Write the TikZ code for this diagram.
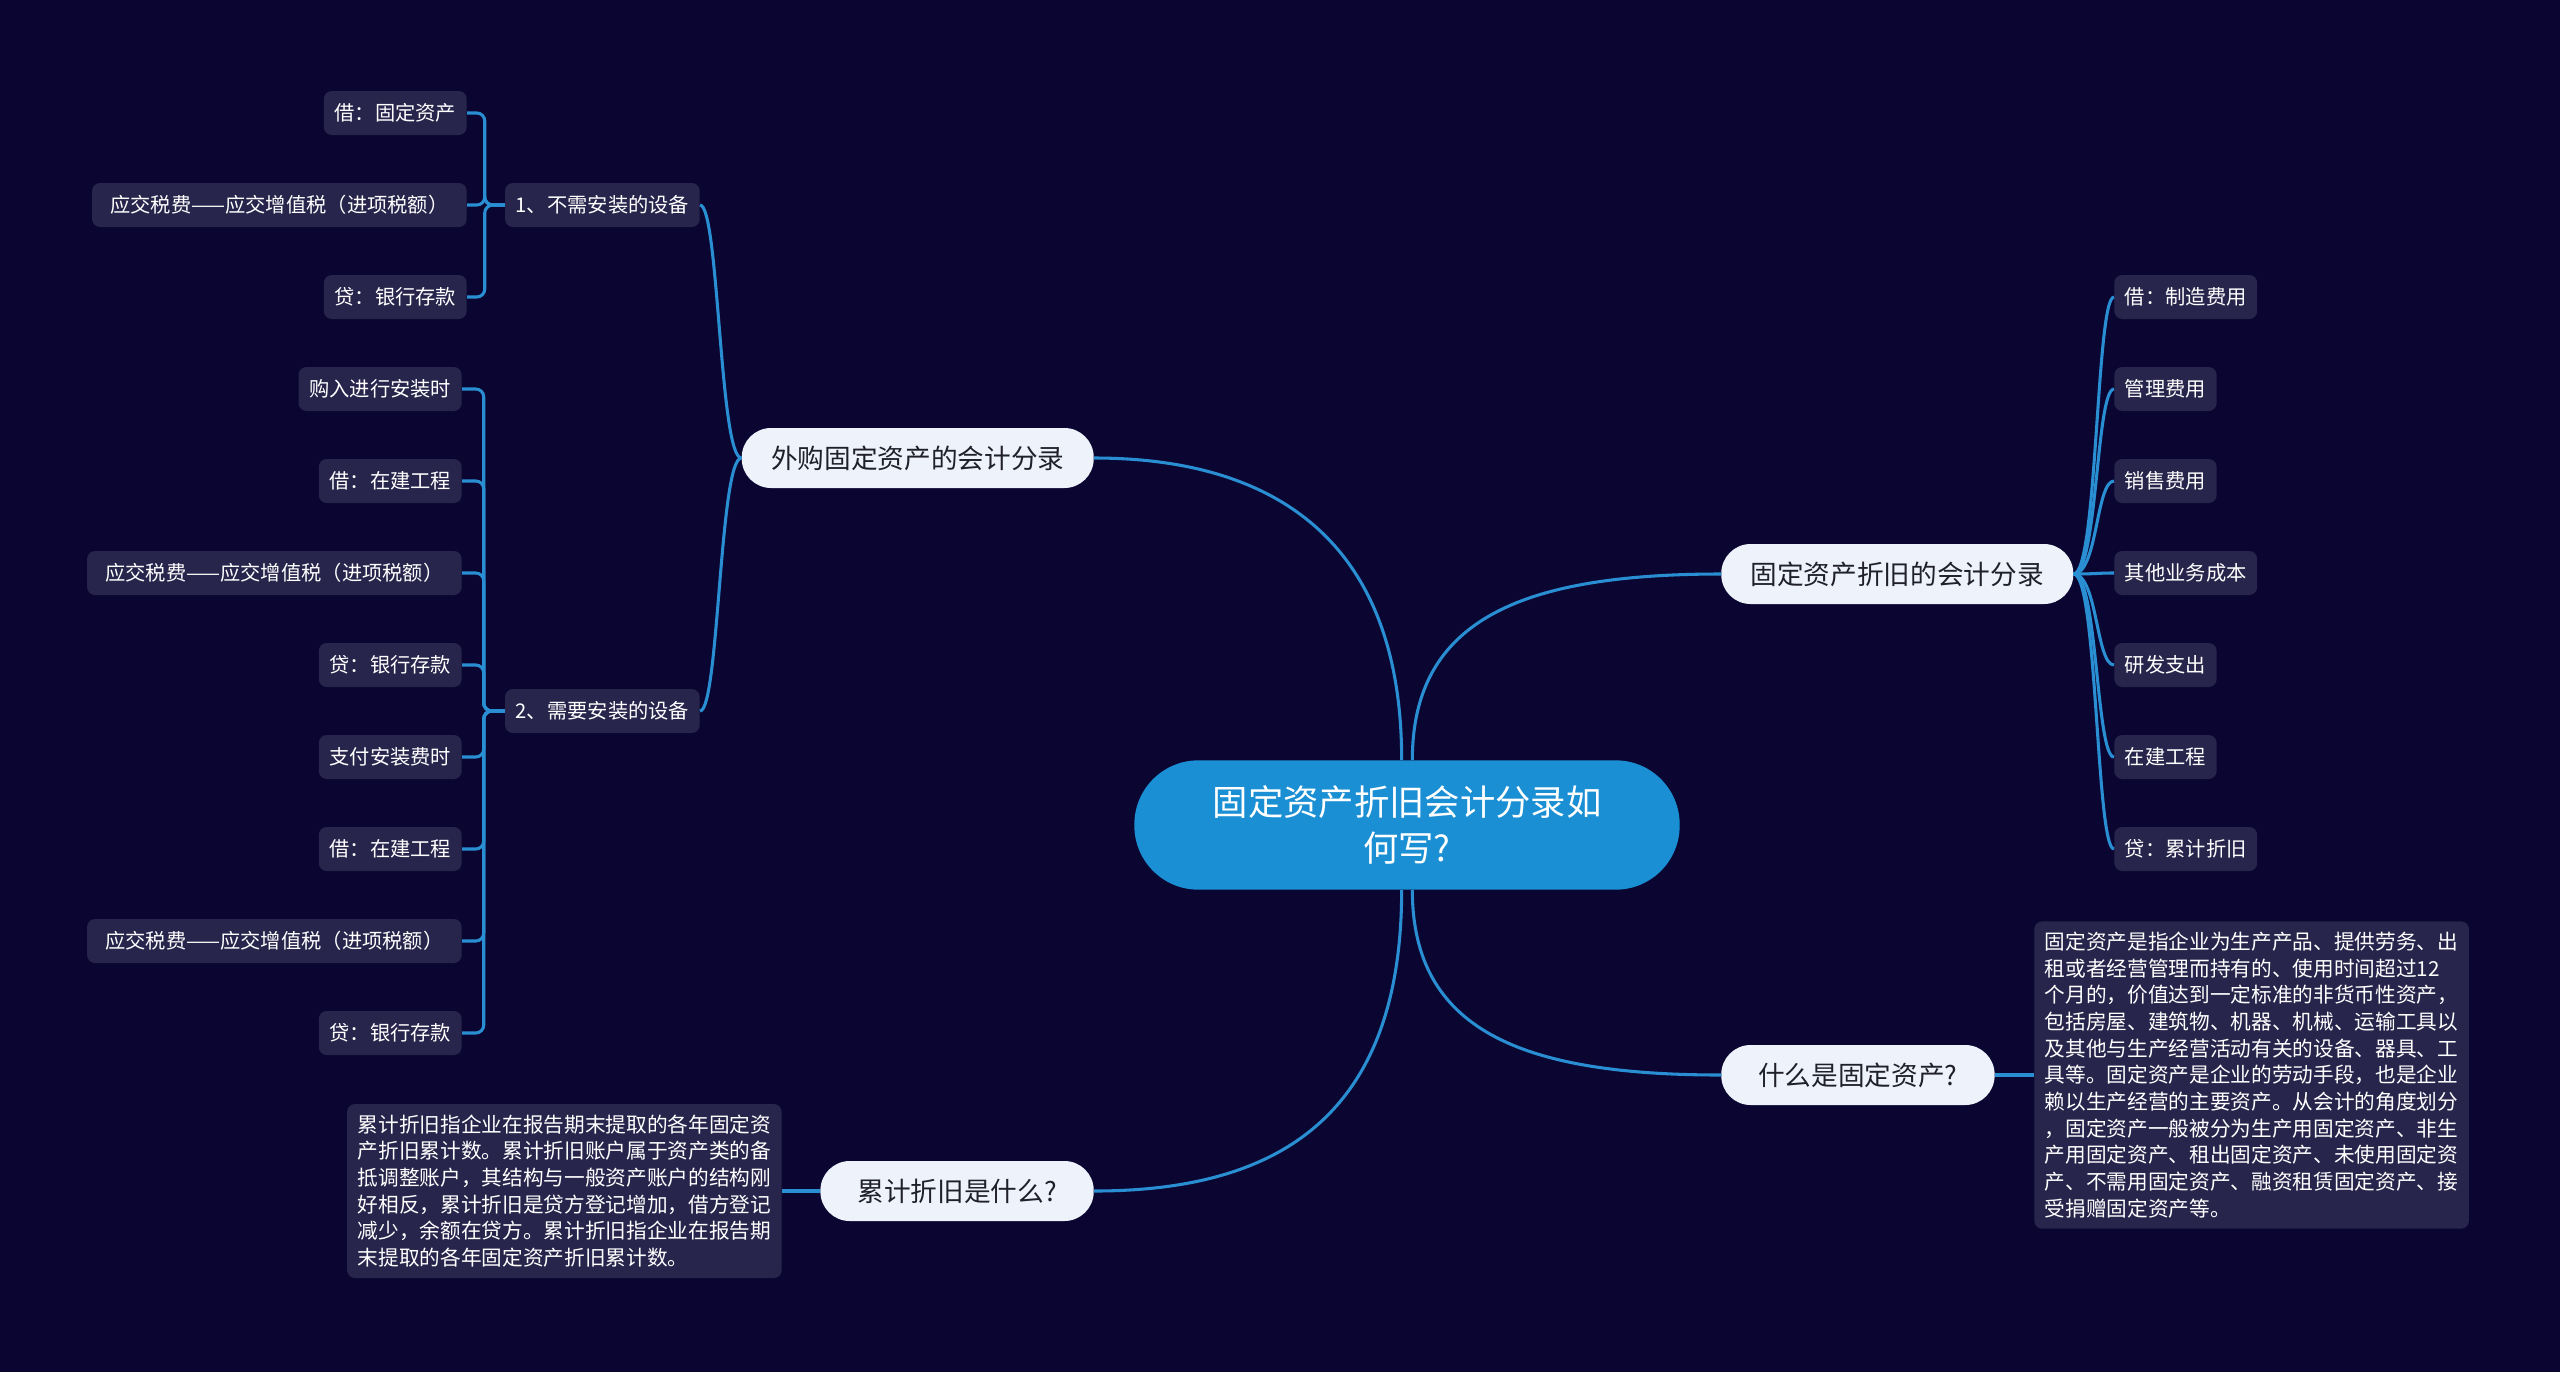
\documentclass[tikz,border=0pt]{standalone}
\usepackage{fontspec}
\setmainfont{Noto Sans CJK SC}
\usepackage{xcolor}
\usetikzlibrary{positioning}

\definecolor{bgcol}{HTML}{0A0631}
\definecolor{rootcol}{HTML}{1A8FD3}
\definecolor{branchcol}{HTML}{EEF3FB}
\definecolor{branchtxt}{HTML}{20202C}
\definecolor{leafcol}{HTML}{28254C}
\definecolor{linecol}{HTML}{2A8ED3}

\tikzset{
  rootnode/.style={fill=rootcol, text=white, rounded corners=48pt, minimum width=409pt,
    minimum height=97pt, align=center, font=\fontsize{26.5}{34.5}\selectfont},
  branchnode/.style={fill=branchcol, text=branchtxt, rounded corners=22pt, minimum height=45pt,
    inner xsep=22pt, font=\fontsize{20}{24}\selectfont},
  leafnode/.style={fill=leafcol, text=white, rounded corners=6pt, minimum height=33pt,
    inner xsep=8pt, font=\fontsize{15.2}{18}\selectfont},
  taxleaf/.style={leafnode, minimum width=281pt},
  notebox/.style={fill=leafcol, text=white, rounded corners=6pt, inner xsep=8pt, inner ysep=8pt,
    align=left, font=\fontsize{15.5}{20}\selectfont},
  link/.style={draw=linecol, line width=2.3pt},
}

\begin{document}
\begin{tikzpicture}[x=0.75pt, y=-0.75pt]
    \fill[bgcol] (0,0) rectangle (2560,1372);
    \useasboundingbox (0,0) rectangle (2560,1372);

    % centre and main branches
    \node[rootnode] (root) at (1407,825) {固定资产折旧会计分录如\\何写?};
    \node[branchnode, anchor=east] (buy) at (1094,458) {外购固定资产的会计分录};
    \node[branchnode, anchor=west] (depr) at (1721,574) {固定资产折旧的会计分录};
    \node[branchnode, anchor=west, minimum width=205pt] (whatis) at (1721,1075) {什么是固定资产?};
    \node[branchnode, anchor=east, minimum width=205pt] (accum) at (1094,1191) {累计折旧是什么?};

    \draw[link] ([xshift=-4pt]root.north) .. controls +(0,-220) and +(180,0) .. (buy.east);
    \draw[link] ([xshift=4pt]root.north) .. controls +(0,-140) and +(-200,0) .. (depr.west);
    \draw[link] ([xshift=4pt]root.south) .. controls +(0,140) and +(-200,0) .. (whatis.west);
    \draw[link] ([xshift=-4pt]root.south) .. controls +(0,230) and +(180,0) .. (accum.east);

    % purchased assets
    \node[leafnode, anchor=east] (buy1) at (700,205) {1、不需安装的设备};
    \node[leafnode, anchor=east] (buy2) at (700,711) {2、需要安装的设备};
    \draw[link] (buy.west) .. controls +(-22,0) and +(19,0) .. (buy1.east);
    \draw[link] (buy.west) .. controls +(-22,0) and +(19,0) .. (buy2.east);

    \node[leafnode, anchor=east] (b1a) at (467,113) {借：固定资产};
    \node[taxleaf, anchor=east] (b1b) at (467,205) {应交税费——应交增值税（进项税额）};
    \node[leafnode, anchor=east] (b1c) at (467,297) {贷：银行存款};
    \foreach \n in {b1a,b1b,b1c}
        \draw[link, rounded corners=6pt] (buy1.west) -- ++(-20,0) |- (\n.east);

    \node[leafnode, anchor=east] (b2a) at (462,389) {购入进行安装时};
    \node[leafnode, anchor=east] (b2b) at (462,481) {借：在建工程};
    \node[taxleaf, anchor=east] (b2c) at (462,573) {应交税费——应交增值税（进项税额）};
    \node[leafnode, anchor=east] (b2d) at (462,665) {贷：银行存款};
    \node[leafnode, anchor=east] (b2e) at (462,757) {支付安装费时};
    \node[leafnode, anchor=east] (b2f) at (462,849) {借：在建工程};
    \node[taxleaf, anchor=east] (b2g) at (462,941) {应交税费——应交增值税（进项税额）};
    \node[leafnode, anchor=east] (b2h) at (462,1033) {贷：银行存款};
    \foreach \n in {b2a,b2b,b2c,b2d,b2e,b2f,b2g,b2h}
        \draw[link, rounded corners=6pt] (buy2.west) -- ++(-21,0) |- (\n.east);

    % depreciation entries
    \node[leafnode, anchor=west] (d1) at (2114,297) {借：制造费用};
    \node[leafnode, anchor=west] (d2) at (2114,389) {管理费用};
    \node[leafnode, anchor=west] (d3) at (2114,481) {销售费用};
    \node[leafnode, anchor=west] (d4) at (2114,573) {其他业务成本};
    \node[leafnode, anchor=west] (d5) at (2114,665) {研发支出};
    \node[leafnode, anchor=west] (d6) at (2114,757) {在建工程};
    \node[leafnode, anchor=west] (d7) at (2114,849) {贷：累计折旧};
    \foreach \n in {d1,d2,d3,d4,d5,d6,d7}
        \draw[link] (depr.east) .. controls +(24,0) and +(-18,0) .. (\n.west);

    % notes
    \node[notebox, anchor=west] (notefa) at (2034,1075) {固定资产是指企业为生产产品、提供劳务、出\\
        租或者经营管理而持有的、使用时间超过12\\
        个月的，价值达到一定标准的非货币性资产，\\
        包括房屋、建筑物、机器、机械、运输工具以\\
        及其他与生产经营活动有关的设备、器具、工\\
        具等。固定资产是企业的劳动手段，也是企业\\
        赖以生产经营的主要资产。从会计的角度划分\\
        ，固定资产一般被分为生产用固定资产、非生\\
        产用固定资产、租出固定资产、未使用固定资\\
        产、不需用固定资产、融资租赁固定资产、接\\
        受捐赠固定资产等。};
    \draw[link] (whatis.east) -- (notefa.west);

    \node[notebox, anchor=east] (noteacc) at (782,1191) {累计折旧指企业在报告期末提取的各年固定资\\
        产折旧累计数。累计折旧账户属于资产类的备\\
        抵调整账户，其结构与一般资产账户的结构刚\\
        好相反，累计折旧是贷方登记增加，借方登记\\
        减少，余额在贷方。累计折旧指企业在报告期\\
        末提取的各年固定资产折旧累计数。};
    \draw[link] (accum.west) -- (noteacc.east);
\end{tikzpicture}
\end{document}
